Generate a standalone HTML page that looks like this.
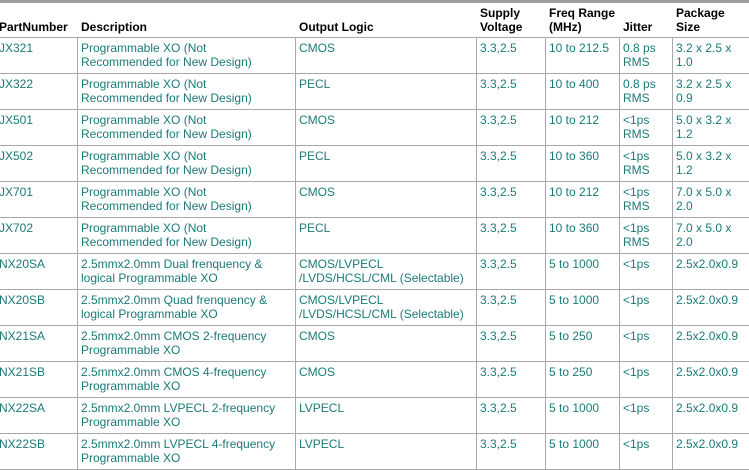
<!DOCTYPE html>
<html><head><meta charset="utf-8"><style>
body{margin:0;width:749px;height:470px;overflow:hidden;background:#fff;font-family:"Liberation Sans",Arial,sans-serif;font-size:12px;position:relative}
.bar{position:absolute;left:0;top:0;width:749px;height:3px;background:#a0a0a0}
.h{position:absolute;font-weight:bold;color:#000;line-height:14px}
.c{position:absolute;color:#1a7a78;line-height:14px;white-space:nowrap}
.hl{position:absolute;left:0;width:749px;height:1px;background:#a8a8a8}
.vl{position:absolute;width:1px;background:#a8a8a8}
</style></head><body>
<div class="bar"></div>
<div class="h" style="left:-1px;top:20px">PartNumber</div>
<div class="h" style="left:81px;top:20px">Description</div>
<div class="h" style="left:299px;top:20px">Output Logic</div>
<div class="h" style="left:480px;top:6px">Supply<br>Voltage</div>
<div class="h" style="left:549px;top:6px">Freq Range<br>(MHz)</div>
<div class="h" style="left:623px;top:20px">Jitter</div>
<div class="h" style="left:676px;top:6px">Package<br>Size</div>
<div id="rows"></div>
<script>
var d=[
["JX321","Programmable XO (Not<br>Recommended for New Design)","CMOS","3.3,2.5","10 to 212.5","0.8 ps<br>RMS","3.2 x 2.5 x<br>1.0"],
["JX322","Programmable XO (Not<br>Recommended for New Design)","PECL","3.3,2.5","10 to 400","0.8 ps<br>RMS","3.2 x 2.5 x<br>0.9"],
["JX501","Programmable XO (Not<br>Recommended for New Design)","CMOS","3.3,2.5","10 to 212","&lt;1ps<br>RMS","5.0 x 3.2 x<br>1.2"],
["JX502","Programmable XO (Not<br>Recommended for New Design)","PECL","3.3,2.5","10 to 360","&lt;1ps<br>RMS","5.0 x 3.2 x<br>1.2"],
["JX701","Programmable XO (Not<br>Recommended for New Design)","CMOS","3.3,2.5","10 to 212","&lt;1ps<br>RMS","7.0 x 5.0 x<br>2.0"],
["JX702","Programmable XO (Not<br>Recommended for New Design)","PECL","3.3,2.5","10 to 360","&lt;1ps<br>RMS","7.0 x 5.0 x<br>2.0"],
["NX20SA","2.5mmx2.0mm Dual frenquency &amp;<br>logical Programmable XO","CMOS/LVPECL<br>/LVDS/HCSL/CML (Selectable)","3.3,2.5","5 to 1000","&lt;1ps","2.5x2.0x0.9"],
["NX20SB","2.5mmx2.0mm Quad frenquency &amp;<br>logical Programmable XO","CMOS/LVPECL<br>/LVDS/HCSL/CML (Selectable)","3.3,2.5","5 to 1000","&lt;1ps","2.5x2.0x0.9"],
["NX21SA","2.5mmx2.0mm CMOS 2-frequency<br>Programmable XO","CMOS","3.3,2.5","5 to 250","&lt;1ps","2.5x2.0x0.9"],
["NX21SB","2.5mmx2.0mm CMOS 4-frequency<br>Programmable XO","CMOS","3.3,2.5","5 to 250","&lt;1ps","2.5x2.0x0.9"],
["NX22SA","2.5mmx2.0mm LVPECL 2-frequency<br>Programmable XO","LVPECL","3.3,2.5","5 to 1000","&lt;1ps","2.5x2.0x0.9"],
["NX22SB","2.5mmx2.0mm LVPECL 4-frequency<br>Programmable XO","LVPECL","3.3,2.5","5 to 1000","&lt;1ps","2.5x2.0x0.9"]];
var xs=[-1,81,299,480,549,623,676],vx=[77,295,476,545,619,672],h="";
for(var i=0;i<=12;i++)h+='<div class="hl" style="top:'+(37+36*i)+'px"></div>';
for(var j=0;j<vx.length;j++)h+='<div class="vl" style="left:'+vx[j]+'px;top:37px;height:433px"></div>';
for(var i=0;i<d.length;i++)for(var j=0;j<7;j++)h+='<div class="c" style="left:'+xs[j]+'px;top:'+(41+36*i)+'px">'+d[i][j]+'</div>';
document.getElementById("rows").innerHTML=h;
</script>
</body></html>
